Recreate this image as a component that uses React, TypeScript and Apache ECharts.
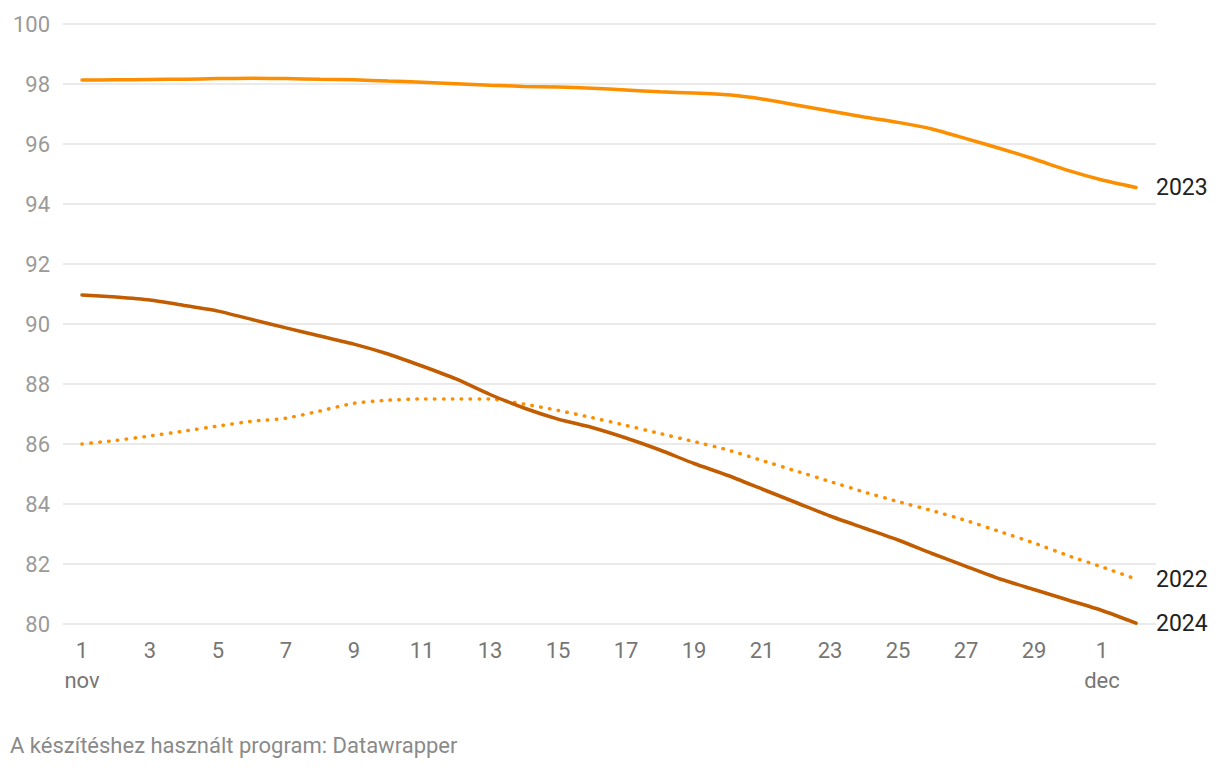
import React, { useEffect, useRef } from "react";
import * as echarts from "echarts";

const days: number[] = Array.from({ length: 32 }, (_, i) => i + 1);
const tickDays = [1, 3, 5, 7, 9, 11, 13, 15, 17, 19, 21, 23, 25, 27, 29, 31];
const tickLabels: Record<number, string> = {
  1: "1\nnov", 3: "3", 5: "5", 7: "7", 9: "9", 11: "11", 13: "13", 15: "15",
  17: "17", 19: "19", 21: "21", 23: "23", 25: "25", 27: "27", 29: "29", 31: "1\ndec",
};

const values2023 = [
  98.13, 98.14, 98.15, 98.16, 98.18, 98.19, 98.18, 98.16, 98.14, 98.1, 98.06, 98.01,
  97.96, 97.92, 97.9, 97.86, 97.8, 97.74, 97.7, 97.64, 97.5, 97.3, 97.1, 96.9,
  96.72, 96.5, 96.18, 95.85, 95.5, 95.12, 94.8, 94.55,
];
const values2022 = [
  86.0, 86.12, 86.27, 86.43, 86.6, 86.76, 86.86, 87.1, 87.36, 87.46, 87.5, 87.5,
  87.5, 87.33, 87.12, 86.88, 86.62, 86.35, 86.08, 85.8, 85.45, 85.1, 84.75, 84.4,
  84.08, 83.78, 83.45, 83.08, 82.7, 82.28, 81.9, 81.5,
];
const values2024 = [
  90.97, 90.9, 90.8, 90.62, 90.43, 90.15, 89.87, 89.6, 89.33, 89.0, 88.6, 88.17,
  87.65, 87.2, 86.83, 86.55, 86.2, 85.8, 85.35, 84.95, 84.5, 84.05, 83.6, 83.2,
  82.8, 82.35, 81.92, 81.5, 81.15, 80.8, 80.45, 80.03,
];

const ORANGE = "#fb8f00";
const DARK = "#c25c00";

export default function App() {
  const ref = useRef<HTMLDivElement>(null);
  useEffect(() => {
    if (!ref.current) return;
    const chart = echarts.init(ref.current, undefined, { renderer: "svg" });
    const pair = (arr: number[]) => days.map((d, i) => [d, arr[i]]);
    const endLabel = (name: string) => ({
      show: true,
      formatter: name,
      color: "#222",
      fontSize: 23,
      fontFamily: "Roboto",
      distance: 20,
    });
    chart.setOption({
      animation: false,
      textStyle: { fontFamily: "Roboto" },
      grid: { left: 63, right: 64, top: 24, bottom: 146 },
      xAxis: {
        type: "value",
        min: 0.441,
        max: 32.588,
        axisLine: { show: false },
        axisTick: { show: false },
        splitLine: { show: false },
        axisLabel: {
          customValues: tickDays,
          formatter: (v: number) => tickLabels[Math.round(v)] ?? "",
          color: "#767676",
          fontSize: 22,
          lineHeight: 30,
          margin: 11,
          fontFamily: "Roboto",
        },
      },
      yAxis: {
        type: "value",
        min: 80,
        max: 100,
        interval: 2,
        axisLine: { show: false },
        axisTick: { show: false },
        splitLine: { lineStyle: { color: "#e3e3e3", width: 1.5 } },
        axisLabel: { color: "#9a9a9a", fontSize: 22, margin: 13, fontFamily: "Roboto" },
      },
      series: [
        {
          name: "2023",
          type: "line",
          data: pair(values2023),
          showSymbol: false,
          smooth: 0.2,
          lineStyle: { color: ORANGE, width: 3.5, cap: "round" },
          endLabel: endLabel("2023"),
        },
        {
          name: "2022",
          type: "line",
          data: pair(values2022),
          showSymbol: false,
          smooth: 0.2,
          lineStyle: { color: ORANGE, width: 3.5, type: [0.5, 8.4], cap: "round" },
          endLabel: endLabel("2022"),
        },
        {
          name: "2024",
          type: "line",
          data: pair(values2024),
          showSymbol: false,
          smooth: 0.2,
          lineStyle: { color: DARK, width: 3.5, cap: "round" },
          endLabel: endLabel("2024"),
        },
      ],
      graphic: [
        {
          type: "text",
          left: 10,
          top: 734,
          style: {
            text: "A készítéshez használt program: Datawrapper",
            fill: "#8a8a8a",
            fontSize: 22,
            fontFamily: "Roboto",
          },
        },
      ],
    });
    return () => chart.dispose();
  }, []);
  return (
    <div
      ref={ref}
      style={{ position: "fixed", left: 0, top: 0, width: 1220, height: 770, background: "#fff" }}
    />
  );
}
